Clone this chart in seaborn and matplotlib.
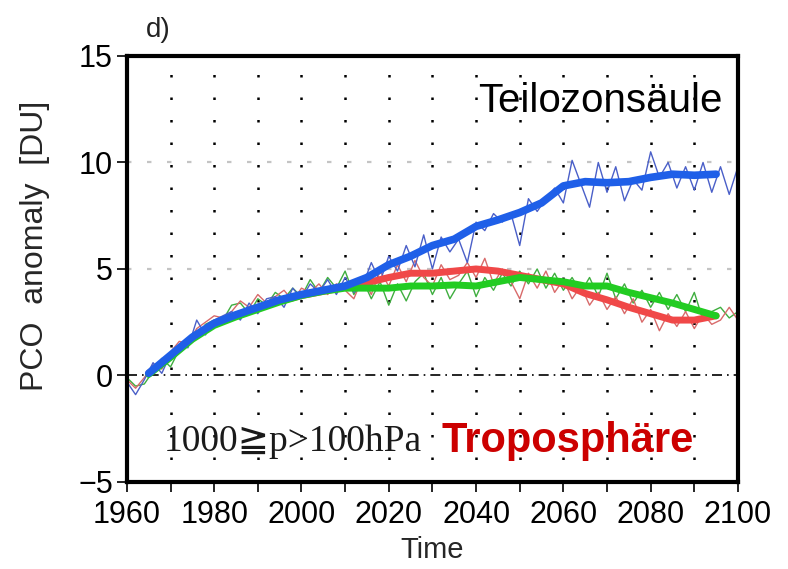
import numpy as np
import pandas as pd
import matplotlib
matplotlib.use("Agg")
import matplotlib.pyplot as plt
import seaborn as sns

# ---- data ----
thin_years = list(range(1960, 2101, 2))
blue_thin = [-0.3, -0.9, -0.2, 0.6, 0.1, 1.0, 1.4, 1.3, 2.6, 1.9,
             2.6, 2.8, 3.0, 2.6, 3.4, 2.9, 3.6, 3.7, 3.2, 4.1,
             3.6, 4.3, 3.9, 4.5, 3.8,
             4.6, 3.9, 4.2, 5.3, 4.4, 5.6, 4.9, 6.1, 5.1, 6.6,
             5.0, 6.5, 5.8, 6.4, 5.3, 7.2, 6.8, 7.6, 7.2, 7.6,
             6.1, 8.3, 7.7, 8.3, 8.8, 8.1, 10.1, 9.0, 7.9, 10.0,
             8.6, 9.8, 8.2, 9.2, 8.7, 10.5, 9.3, 10.0, 8.8, 9.8,
             8.7, 10.0, 8.6, 9.8, 8.5, 9.8]
red_thin = [-0.2, -0.6, -0.1, 0.5, 0.3, 1.1, 1.6, 1.5, 2.2, 2.5,
            2.8, 2.7, 3.0, 3.5, 3.2, 3.8, 3.4, 3.7, 4.0, 3.5,
            4.1, 3.9, 4.3, 3.8, 4.3,
            4.0, 3.6, 4.6, 3.8, 4.9, 4.2, 5.2, 4.4, 5.4, 4.6,
            4.2, 5.2, 4.5, 4.7, 5.3, 4.6, 5.5, 4.3, 5.0, 4.4,
            3.6, 4.8, 4.1, 4.9, 3.9, 4.5, 3.6, 4.2, 3.3, 3.9,
            3.1, 3.7, 2.9, 3.6, 2.5, 3.1, 2.1, 2.9, 2.3, 3.0,
            2.2, 2.9, 2.4, 2.6, 3.2, 2.6]
green_thin = [-0.1, -0.5, -0.4, 0.2, 0.8, 0.4, 1.2, 1.7, 1.8, 2.4,
              2.6, 2.6, 3.3, 3.4, 2.9, 3.6, 3.3, 3.9, 3.6, 4.1,
              3.7, 4.5, 3.9, 4.6, 4.1,
              4.9, 3.8, 4.5, 3.6, 4.4, 3.3, 4.3, 3.5, 4.4, 4.8,
              3.8, 4.6, 3.6, 4.3, 4.9, 3.7, 4.6, 4.0, 4.8, 4.2,
              4.9, 4.3, 5.0, 4.1, 4.8, 4.0, 4.6, 3.9, 4.6, 3.7,
              4.8, 3.6, 4.3, 3.4, 4.0, 3.2, 3.9, 3.1, 3.8, 3.0,
              3.9, 2.6, 3.0, 3.2, 2.7, 3.0]

thick_years = list(range(1965, 2096, 5))
blue_thick = [0.1, 0.95, 1.8, 2.45, 2.85, 3.2, 3.55, 3.8, 4.0, 4.2,
              4.6, 5.2, 5.6, 6.1, 6.4, 7.0, 7.3, 7.65, 8.1,
              8.9, 9.1, 9.05, 9.1, 9.3, 9.45, 9.4, 9.45]
red_thick = [0.1, 0.9, 1.75, 2.4, 2.8, 3.15, 3.5, 3.75, 3.95,
             4.15, 4.35, 4.6, 4.8, 4.8, 4.9, 5.0, 4.9, 4.7, 4.5,
             4.3, 3.85, 3.55, 3.2, 2.9, 2.6, 2.6, 2.8]
green_thick = [0.05, 0.85, 1.7, 2.35, 2.75, 3.1, 3.45, 3.75, 3.95,
               4.1, 4.1, 4.1, 4.2, 4.2, 4.25, 4.2, 4.4, 4.6, 4.5,
               4.4, 4.2, 4.2, 3.9, 3.65, 3.4, 3.1, 2.8]

x_ticks = [1960, 1980, 2000, 2020, 2040, 2060, 2080, 2100]
y_ticks = [-5, 0, 5, 10, 15]
y_ticklabels = ['\u22125', '0', '5', '10', '15']

# ---- plot ----
sns.set_style("white")
plt.rcParams['font.family'] = ['Liberation Sans', 'DejaVu Sans']

fig = plt.figure(figsize=(7.88, 5.69), dpi=100)
ax = fig.add_axes([0.161, 0.153, 0.7755, 0.7486])

thin_df = pd.DataFrame({'year': thin_years, 'blue': blue_thin, 'red': red_thin, 'green': green_thin})
thick_df = pd.DataFrame({'year': thick_years, 'blue': blue_thick, 'red': red_thick, 'green': green_thick})

# grid
for xv in range(1970, 2100, 10):
    ax.axvline(xv, color='black', lw=1.8, ls=(0, (1, 8)), zorder=1)
for yv in [5, 10]:
    ax.axhline(yv, color='#c4c4c4', lw=1.6, ls=(0, (2, 7)), zorder=1)
ax.axhline(0, color='black', lw=1.2, ls=(0, (6, 3, 1, 3)), zorder=1)

sns.lineplot(data=thin_df, x='year', y='green', color='#3fae3f', lw=1.0, ax=ax, zorder=2)
sns.lineplot(data=thin_df, x='year', y='red', color='#d86a6a', lw=1.0, ax=ax, zorder=2)
sns.lineplot(data=thin_df, x='year', y='blue', color='#4a5fc8', lw=1.0, ax=ax, zorder=2)

sns.lineplot(data=thick_df, x='year', y='red', color='#f04848', lw=5, ax=ax, zorder=3)
sns.lineplot(data=thick_df, x='year', y='green', color='#22cc22', lw=5, ax=ax, zorder=3)
sns.lineplot(data=thick_df, x='year', y='blue', color='#1f5fe8', lw=5.5, ax=ax, zorder=4)

ax.set_xlim(1960, 2100)
ax.set_ylim(-5, 15)
ax.set_xticks(x_ticks)
ax.set_xticks(list(range(1970, 2100, 20)), minor=True)
ax.set_yticks(y_ticks)
ax.set_yticklabels(y_ticklabels)
ax.tick_params(axis='both', which='both', direction='out', length=7, width=1.2,
               labelsize=22, colors='black')
ax.tick_params(axis='x', which='both', bottom=True, pad=6)
ax.tick_params(axis='y', which='both', left=True, pad=3)

for sp in ax.spines.values():
    sp.set_linewidth(3)
    sp.set_color('black')
    sp.set_visible(True)

ax.set_xlabel('Time', fontsize=21, labelpad=4)
ax.set_ylabel('PCO  anomaly  [DU]', fontsize=23)
ax.yaxis.set_label_coords(-0.126, 0.555)

ax.text(2096.5, 12.9, 'Teilozonsäule', ha='right', va='center', fontsize=29,
        color='black', zorder=6)
ax.text(2061, -3.1, 'Troposphäre', ha='center', va='center', fontsize=30, fontweight='bold',
        color='#cc0000', zorder=6)
ax.text(1968.5, -3.1, '1000\u2267p>100hPa', ha='left', va='center', fontsize=27,
        family=['Liberation Serif', 'DejaVu Serif', 'DejaVu Sans'], color='#1a1a1a', zorder=6)
fig.text(0.185, 0.947, 'd)', ha='left', va='center', fontsize=20, color='#222222')

fig.savefig('out.png', dpi=100)
